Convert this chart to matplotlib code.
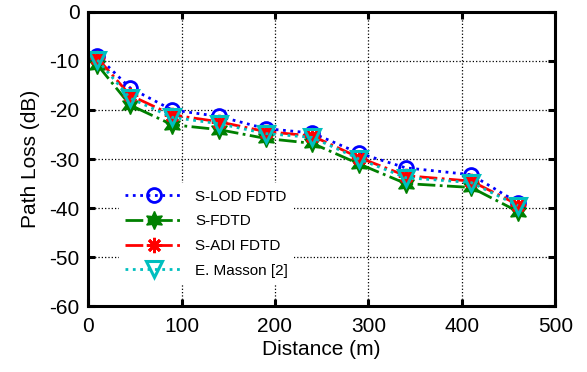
import matplotlib
matplotlib.use("Agg")
import matplotlib.pyplot as plt

plt.rcParams["font.family"] = ["Liberation Sans", "DejaVu Sans"]
plt.rcParams["axes.unicode_minus"] = False

distance = [10, 45, 90, 140, 190, 240, 290, 340, 410, 460]
s_lod = [-9, -15.5, -20, -21.3, -23.8, -24.7, -28.8, -31.8, -33.2, -38.9]
s_fdtd = [-10.8, -19, -23, -24, -25.8, -26.8, -31, -35, -35.8, -40.7]
s_adi = [-9.4, -17, -21, -22.4, -24.4, -25.3, -29.7, -33.4, -34.5, -39.3]
masson = [-9.8, -17.6, -21.5, -22.8, -24.8, -25.6, -30, -33.8, -34.8, -39.5]

labels = ["S-LOD FDTD", "S-FDTD", "S-ADI FDTD", "E. Masson [2]"]

fig = plt.figure(figsize=(5.87, 3.72), dpi=100)
ax = fig.add_axes([0.150, 0.177, 0.796, 0.791])

ax.plot(distance, s_lod, color="blue", linestyle=":", linewidth=2,
        marker="o", markersize=10, markerfacecolor="none",
        markeredgecolor="blue", markeredgewidth=2, label=labels[0])
ax.plot(distance, s_fdtd, color="green", linestyle="-.", linewidth=2,
        marker=(6, 1, 0), markersize=13, markerfacecolor="green",
        markeredgecolor="green", markeredgewidth=1, label=labels[1])
ax.plot(distance, s_adi, color="red", linestyle="-.", linewidth=2,
        marker=(8, 2, 0), markersize=11, markerfacecolor="red",
        markeredgecolor="red", markeredgewidth=2, label=labels[2])
ax.plot(distance, masson, color="#00bfbf", linestyle=":", linewidth=2,
        marker="v", markersize=12, markerfacecolor="none",
        markeredgecolor="#00bfbf", markeredgewidth=2.2, label=labels[3])

ax.set_xlim(0, 500)
ax.set_ylim(-60, 0)
ax.set_xticks(range(0, 501, 100))
ax.set_yticks(range(-60, 1, 10))
ax.grid(True, color="black", linestyle=":", linewidth=0.9)
ax.set_axisbelow(True)

for sp in ax.spines.values():
    sp.set_linewidth(2.2)
ax.tick_params(direction="in", length=5, width=2.2, top=True, right=True,
               labelsize=15)
ax.tick_params(axis="x", pad=8)
ax.tick_params(axis="y", pad=6)

ax.set_xlabel("Distance (m)", fontsize=15, labelpad=3)
ax.set_ylabel("Path Loss (dB)", fontsize=15, labelpad=7)

leg = ax.legend(loc="lower left", bbox_to_anchor=(0.05, 0.05), fontsize=11,
                handlelength=3.8, handletextpad=0.8, labelspacing=0.7,
                numpoints=1, frameon=True, fancybox=False, borderpad=0.4)
leg.get_frame().set_edgecolor("none")
leg.get_frame().set_facecolor("white")
leg.get_frame().set_alpha(1)

fig.savefig("out.png", dpi=100)
